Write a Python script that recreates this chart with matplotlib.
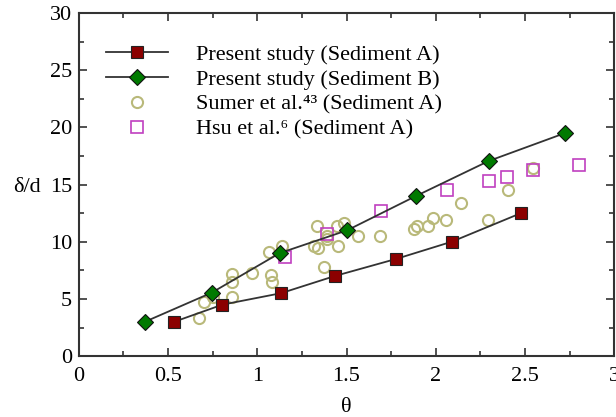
import numpy as np
import matplotlib
matplotlib.use("Agg")
import matplotlib.pyplot as plt
from matplotlib.ticker import MultipleLocator, FormatStrFormatter

plt.rcParams['font.family'] = ['Liberation Serif', 'DejaVu Serif']

# present study, sediment A
theta_a = [0.534, 0.805, 1.133, 1.434, 1.779, 2.09, 2.478]
delta_a = [3.0, 4.5, 5.5, 7.0, 8.5, 10.0, 12.5]

# present study, sediment B
theta_b = [0.37, 0.745, 1.125, 1.504, 1.89, 2.296, 2.725]
delta_b = [3.0, 5.55, 9.0, 11.0, 14.0, 17.05, 19.5]

# Sumer et al. (sediment A)
theta_sumer = [0.676, 0.70, 0.75, 0.86, 0.86, 0.86, 0.97, 1.078, 1.08, 1.064,
               1.139, 1.335, 1.32, 1.34, 1.388, 1.39, 1.376, 1.451, 1.447, 1.485,
               1.565, 1.69, 1.878, 1.893, 1.959, 1.987, 2.058, 2.14, 2.294, 2.406,
               2.547]
delta_sumer = [3.3, 4.7, 5.2, 5.2, 6.45, 7.2, 7.25, 7.1, 6.5, 9.1,
               9.6, 11.35, 9.65, 9.45, 10.2, 10.5, 7.8, 9.6, 11.4, 11.6,
               10.5, 10.5, 11.1, 11.4, 11.35, 12.1, 11.9, 13.4, 11.9, 14.5,
               16.45]

# Hsu et al. (sediment A)
theta_hsu = [1.157, 1.39, 1.695, 2.066, 2.296, 2.40, 2.547, 2.805]
delta_hsu = [8.7, 10.7, 12.7, 14.56, 15.35, 15.7, 16.3, 16.75]

fs = 16
fig = plt.figure(figsize=(6.16, 4.17), dpi=100)
ax = fig.add_axes([0.128, 0.146, 0.869, 0.823])

ax.plot(theta_a, delta_a, '-s', color='#333333', lw=1.3, ms=8.5,
        mfc='#8b0000', mec='#222222', mew=0.8, zorder=4,
        label='Present study (Sediment A)')
ax.plot(theta_b, delta_b, '-D', color='#333333', lw=1.3, ms=8.5,
        mfc='#007a00', mec='#111111', mew=0.8, zorder=4,
        label='Present study (Sediment B)')
ax.plot(theta_sumer, delta_sumer, 'o', ls='none', ms=8, mfc='none',
        mec='#b9b97a', mew=1.5, zorder=2,
        label='Sumer et al.⁴³ (Sediment A)')
ax.plot(theta_hsu, delta_hsu, 's', ls='none', ms=8, mfc='none',
        mec='#c040c0', mew=1.2, zorder=3,
        label='Hsu et al.⁶ (Sediment A)')

ax.set_xlim(0, 3)
ax.set_ylim(0, 30)
ax.xaxis.set_major_locator(MultipleLocator(0.5))
ax.xaxis.set_minor_locator(MultipleLocator(0.25))
ax.yaxis.set_major_locator(MultipleLocator(5))
ax.yaxis.set_minor_locator(MultipleLocator(2.5))
ax.xaxis.set_major_formatter(FormatStrFormatter('%g'))
ax.tick_params(which='both', direction='in', top=True, right=True,
               labelsize=fs, color='#333333', width=1.2)
ax.tick_params(which='major', length=6)
ax.tick_params(which='minor', length=3.5)
ax.tick_params(axis='x', which='major', pad=8)
ax.tick_params(axis='y', which='major', pad=5)
for s in ax.spines.values():
    s.set_linewidth(1.5)
    s.set_color('#333333')

ax.set_xlabel('θ', fontsize=fs, labelpad=8.5)
ax.set_ylabel('δ/d', fontsize=fs, rotation=0, ha='center', va='center')
ax.yaxis.set_label_coords(-0.097, 0.49)

ax.legend(loc='upper left', bbox_to_anchor=(0.035, 0.935), frameon=False,
          fontsize=fs, handlelength=2.75, handletextpad=1.3,
          labelspacing=0.2, borderaxespad=0)

plt.savefig('out.png', dpi=100)
